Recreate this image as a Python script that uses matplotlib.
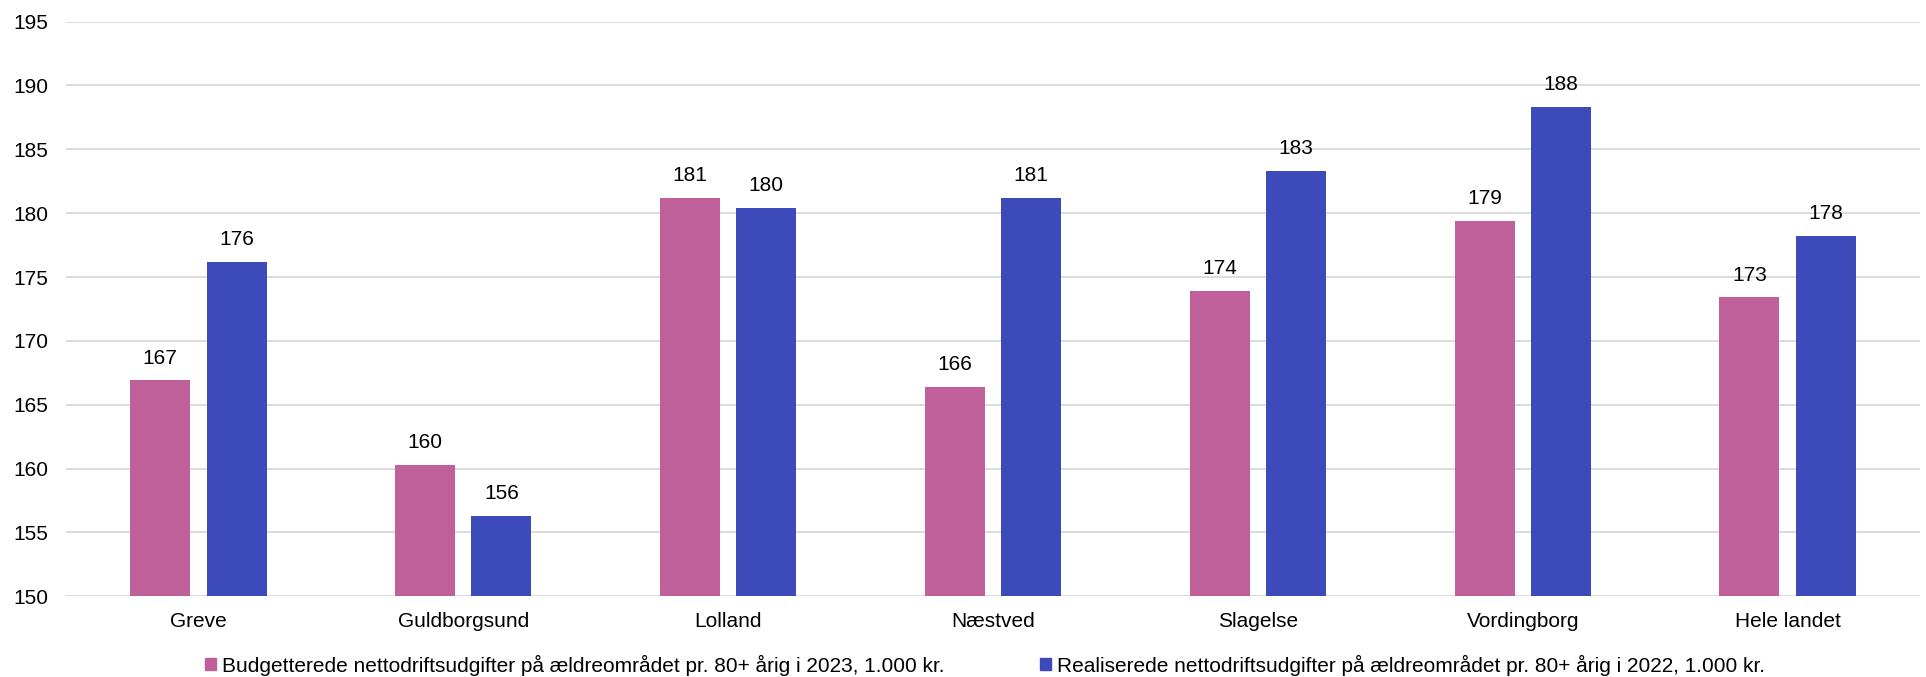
import numpy as np
import matplotlib
matplotlib.use("Agg")
from matplotlib import pyplot as plt
from matplotlib.patches import Patch

plt.rcParams['font.family'] = ['Liberation Sans', 'DejaVu Sans']

# municipalities and net operating expenses per 80+ resident, 1.000 kr.
kommuner = ["Greve", "Guldborgsund", "Lolland", "Næstved", "Slagelse",
            "Vordingborg", "Hele landet"]
budget_2023 = [166.9, 160.3, 181.2, 166.4, 173.9, 179.4, 173.4]
realiseret_2022 = [176.2, 156.3, 180.4, 181.2, 183.3, 188.3, 178.2]

label_budget = "Budgetterede nettodriftsudgifter på ældreområdet pr. 80+ årig i 2023, 1.000 kr."
label_real = "Realiserede nettodriftsudgifter på ældreområdet pr. 80+ årig i 2022, 1.000 kr."

pink = "#C0609B"
blue = "#3D4BBA"
font_size = 15

W, H = 1926, 677
fig = plt.figure(figsize=(W / 100, H / 100), dpi=100)
ax = fig.add_axes([66 / W, (H - 596.3) / H, (1920 - 66) / W, (596.3 - 21.6) / H])

x = np.arange(len(kommuner))
bar_w = 0.227
offset = 0.144
ax.bar(x - offset, np.array(budget_2023) - 150, bar_w, bottom=150,
       color=pink, zorder=3)
ax.bar(x + offset, np.array(realiseret_2022) - 150, bar_w, bottom=150,
       color=blue, zorder=3)

# value labels above each bar
for xs, vals in ((x - offset, budget_2023), (x + offset, realiseret_2022)):
    for xi, v in zip(xs, vals):
        ax.annotate(f"{v:.0f}", (xi, v), xytext=(0, 16), textcoords="offset points",
                    ha="center", va="center", fontsize=font_size, color="#000000")

ax.set_ylim(150, 195)
ax.set_xlim(-0.5, len(kommuner) - 0.5)
ax.set_yticks(np.arange(150, 196, 5))
ax.set_xticks(x)
ax.set_xticklabels(kommuner)
ax.tick_params(axis="both", length=0, labelsize=font_size, colors="#000000")
ax.tick_params(axis="y", pad=13)
ax.tick_params(axis="x", pad=11)
ax.grid(axis="y", color="#D9D9D9", linewidth=1.3, zorder=0)
for s in ax.spines.values():
    s.set_visible(False)

handles = [Patch(color=pink), Patch(color=blue)]
fig.legend(handles, [label_budget, label_real], loc="center",
           bbox_to_anchor=(985 / W, 1 - 665 / H), ncol=2, frameon=False,
           fontsize=font_size, handlelength=0.5, handleheight=0.5,
           handletextpad=0.3, columnspacing=4.6, borderpad=0)

fig.savefig("out.png", dpi=100)
